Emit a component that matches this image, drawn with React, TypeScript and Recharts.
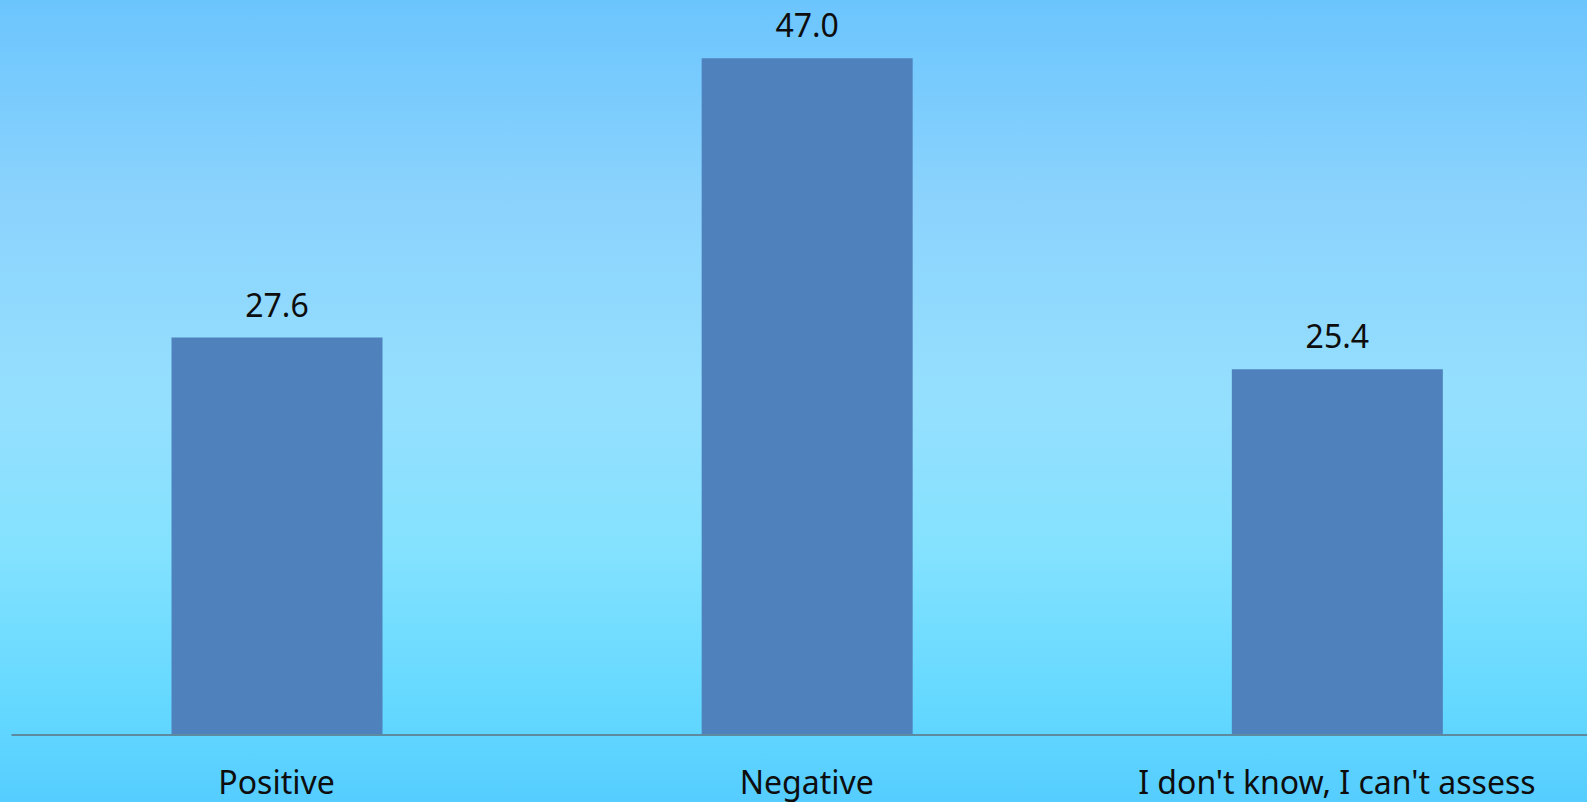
import React from 'react';
import { BarChart, Bar, XAxis, YAxis, LabelList } from 'recharts';

// Chart data
const categories = ['Positive', 'Negative', "I don't know, I can't assess"];
const shares = [27.6, 47.0, 25.4];

const chartData = categories.map((name, i) => ({ name, value: shares[i] }));

const FONT = '"Noto Sans", "Open Sans", sans-serif';

const App: React.FC = () => {
  return (
    <div
      style={{
        position: 'fixed',
        left: 0,
        top: 0,
        width: 1587,
        height: 802,
        overflow: 'hidden',
        background:
          'linear-gradient(to bottom, #6bc5fd 0%, #8bd3fd 25%, #95dffe 50%, #84e2ff 68%, #64d8ff 88%, #55cdff 100%)',
      }}
    >
      <BarChart
        width={1602}
        height={802}
        data={chartData}
        margin={{ top: 15, right: 0, left: 11.5, bottom: 7 }}
        barSize={211}
      >
        <XAxis
          dataKey="name"
          height={60}
          axisLine={{ stroke: '#5e8aa0', strokeWidth: 2 }}
          tickLine={false}
          tickSize={0}
          tickMargin={36}
          interval={0}
          tick={{ fill: '#0d0d0d', fontSize: 32, fontFamily: FONT }}
        />
        <YAxis hide domain={[0, 50]} />
        <Bar dataKey="value" fill="#4f81bd" isAnimationActive={false}>
          <LabelList
            dataKey="value"
            position="top"
            offset={21}
            formatter={(v: any) => Number(v).toFixed(1)}
            style={{ fill: '#0d0d0d', fontSize: 32, fontFamily: FONT }}
          />
        </Bar>
      </BarChart>
    </div>
  );
};

export default App;
